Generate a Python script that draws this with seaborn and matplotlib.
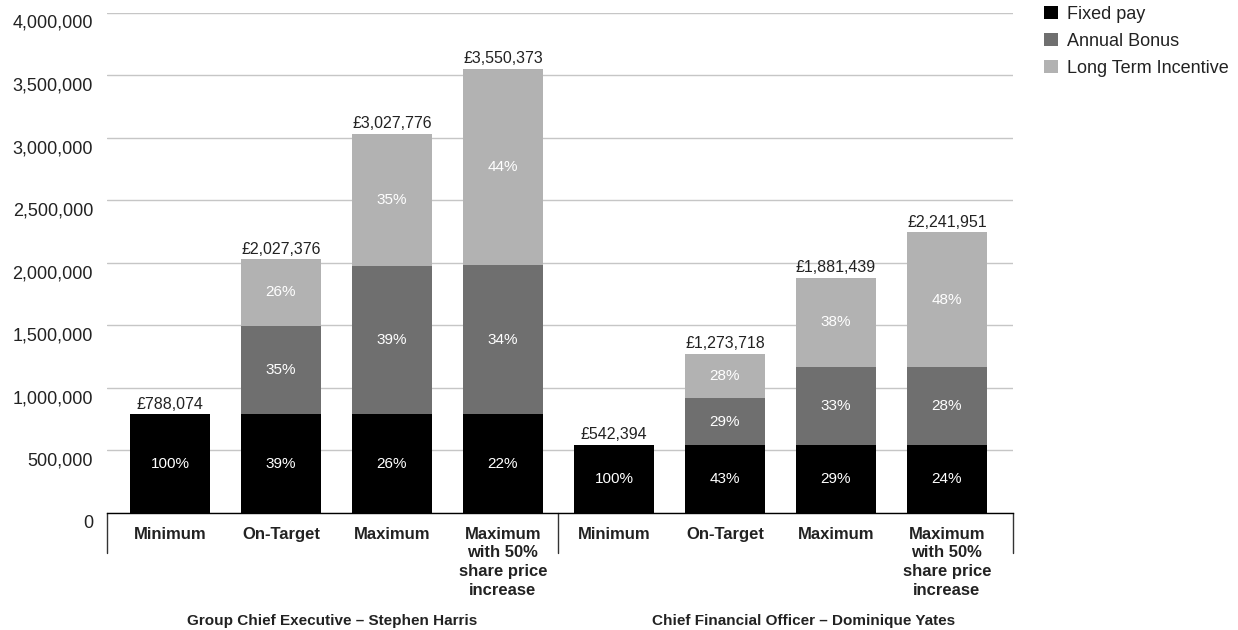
import matplotlib
matplotlib.use("Agg")
import matplotlib.pyplot as plt
import matplotlib.transforms as mtransforms
from matplotlib.patches import Patch
import pandas as pd
import seaborn as sns

# Data
slots = ["ceo_min", "ceo_tgt", "ceo_max", "ceo_max50",
         "cfo_min", "cfo_tgt", "cfo_max", "cfo_max50"]
scenario_labels = ["Minimum", "On-Target", "Maximum", "Maximum\nwith 50%\nshare price\nincrease"] * 2
fixed_pay = [788074, 788074, 788074, 788074, 542394, 542394, 542394, 542394]
annual_bonus = [0, 709267, 1182111, 1195000, 0, 375000, 628000, 628000]
long_term = [0, 530035, 1057591, 1567299, 0, 356324, 711045, 1071557]
fixed_pct = ["100%", "39%", "26%", "22%", "100%", "43%", "29%", "24%"]
bonus_pct = ["", "35%", "39%", "34%", "", "29%", "33%", "28%"]
lti_pct = ["", "26%", "35%", "44%", "", "28%", "38%", "48%"]
group_names = ["Group Chief Executive \u2013 Stephen Harris",
               "Chief Financial Officer \u2013 Dominique Yates"]
series_names = ["Fixed pay", "Annual Bonus", "Long Term Incentive"]

FIXED_C = "#000000"
BONUS_C = "#6f6f6f"
LTI_C = "#b2b2b2"
TEXT_C = "#222222"

df = pd.DataFrame({"slot": slots, "fixed": fixed_pay, "bonus": annual_bonus, "lti": long_term})
df["fixed_bonus"] = df["fixed"] + df["bonus"]
df["total"] = df["fixed_bonus"] + df["lti"]

sns.set_theme(style="white")
plt.rcParams["font.family"] = ["Liberation Sans", "DejaVu Sans"]

fig = plt.figure(figsize=(12.38, 6.3), dpi=100)
ax = fig.add_axes([107 / 1238, 117 / 630, 906 / 1238, 500.5 / 630])

# stacked bars: draw cumulative heights back to front
bw = 0.72
sns.barplot(data=df, x="slot", y="total", order=slots, color=LTI_C, saturation=1,
            width=bw, errorbar=None, ax=ax, linewidth=0)
sns.barplot(data=df, x="slot", y="fixed_bonus", order=slots, color=BONUS_C, saturation=1,
            width=bw, errorbar=None, ax=ax, linewidth=0)
sns.barplot(data=df, x="slot", y="fixed", order=slots, color=FIXED_C, saturation=1,
            width=bw, errorbar=None, ax=ax, linewidth=0)

for i, row in df.iterrows():
    ax.text(i, row["fixed"] / 2, fixed_pct[i], ha="center", va="center", color="white", fontsize=11)
    if bonus_pct[i]:
        ax.text(i, row["fixed"] + row["bonus"] / 2, bonus_pct[i], ha="center", va="center",
                color="white", fontsize=11)
    if lti_pct[i]:
        ax.text(i, row["fixed_bonus"] + row["lti"] / 2, lti_pct[i], ha="center", va="center",
                color="white", fontsize=11)
    ax.text(i, row["total"] + 22000, f"\u00a3{row['total']:,}", ha="center", va="bottom",
            color=TEXT_C, fontsize=11.5)

xl, xr = -0.5676, 7.595
ax.set_xlim(xl, xr)
ax.set_ylim(0, 4000000)
ax.set_yticks(range(0, 4000001, 500000))
ax.yaxis.set_major_formatter(matplotlib.ticker.StrMethodFormatter("{x:,.0f}"))
ax.yaxis.grid(True, color="#c6c6c6", linewidth=1)
ax.set_axisbelow(True)
for s in ["left", "right", "top"]:
    ax.spines[s].set_visible(False)
ax.spines["bottom"].set_color("#000000")
ax.spines["bottom"].set_linewidth(1)

ax.set_xticks(range(len(slots)))
ax.set_xticklabels(scenario_labels, fontweight="bold", fontsize=12, va="top", color=TEXT_C,
                   linespacing=1.3)
ax.tick_params(axis="x", length=0, pad=10)
ax.tick_params(axis="y", length=0, pad=10, labelsize=13, labelcolor=TEXT_C)
ax.set_xlabel("")
ax.set_ylabel("")

# y labels sit a little below their gridlines
offset = mtransforms.ScaledTranslation(0, -0.09, fig.dpi_scale_trans)
for lab in ax.get_yticklabels():
    lab.set_transform(lab.get_transform() + offset)

# group separators under the axis
for xv in [xl, 3.5, xr]:
    ax.plot([xv, xv], [0, -40 / 500.5], transform=ax.get_xaxis_transform(),
            color="#333333", linewidth=1, clip_on=False)

for xc, name in zip([1.46, 5.71], group_names):
    ax.text(xc, -0.215, name, transform=ax.get_xaxis_transform(), ha="center", va="center",
            fontweight="bold", fontsize=11, color=TEXT_C)

handles = [Patch(facecolor=c, edgecolor="none", label=l)
           for c, l in zip([FIXED_C, BONUS_C, LTI_C], series_names)]
fig.legend(handles=handles, loc="upper left", bbox_to_anchor=(1044 / 1238, 1 - 6 / 630),
           frameon=False, fontsize=13, handlelength=0.75, handleheight=0.75,
           handletextpad=0.5, labelspacing=0.55, borderaxespad=0, borderpad=0,
           labelcolor=TEXT_C)

fig.savefig("out.png", dpi=100)
